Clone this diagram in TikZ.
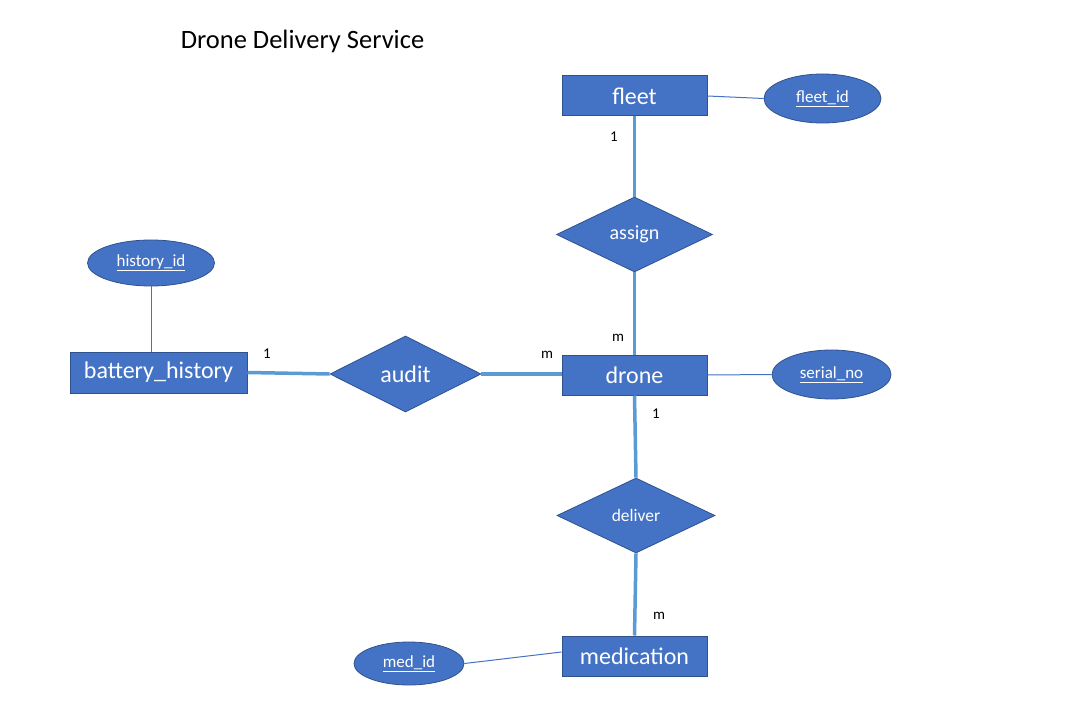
\documentclass[tikz,border=0pt]{standalone}
\usepackage{fontspec}
\setmainfont{Carlito}
\usetikzlibrary{shapes.geometric}
\definecolor{boxfill}{HTML}{4472C4}
\definecolor{boxedge}{HTML}{2F528F}
\definecolor{relline}{HTML}{5B9BD5}
\begin{document}
\begin{tikzpicture}[x=1pt,y=-1pt,
  entity/.style={rectangle,draw=boxedge,line width=1pt,fill=boxfill,text=white,
    minimum width=145pt,minimum height=40pt,inner sep=0pt,font=\fontsize{24}{28}\selectfont},
  relation/.style={diamond,draw=boxedge,line width=0.8pt,fill=boxfill,text=white,
    minimum width=156pt,minimum height=75pt,inner sep=0pt},
  attrib/.style={ellipse,draw=boxedge,line width=0.8pt,fill=boxfill,text=white,
    inner sep=0pt,font=\fontsize{17}{20}\selectfont},
  thick link/.style={draw=relline,line width=3.5pt},
  thin link/.style={draw=boxfill,line width=1pt},
  card/.style={font=\fontsize{15}{18}\selectfont,text=black}]
\useasboundingbox (0,0) rectangle (1076,722);
\node[font=\fontsize{26.5}{31}\selectfont] (title) at (302.5,41) {Drone Delivery Service};
% entities
\node[entity] (fleet) at (634.5,96) {fleet};
\node[entity] (drone) at (634.5,375) {drone};
\node[entity] (medication) at (634.5,656) {medication};
\node[entity,minimum width=177pt,minimum height=41pt] (battery) at (158.5,372.5) {battery\_history};
% relationships
\node[relation,font=\fontsize{20}{24}\selectfont] (assign) at (634.5,234.5) {assign};
\node[relation,minimum width=158pt,font=\fontsize{17.5}{21}\selectfont] (deliver) at (636,515.5) {deliver};
\node[relation,minimum width=151pt,minimum height=76pt,font=\fontsize{24}{28}\selectfont] (audit) at (405.5,374) {audit};
% attributes
\node[attrib,minimum width=117pt,minimum height=49pt] (fleetid) at (822.5,98.5) {\underline{fleet\_id}};
\node[attrib,minimum width=119pt,minimum height=49pt] (serialno) at (831.5,374.5) {\underline{serial\_no}};
\node[attrib,minimum width=110pt,minimum height=43pt] (medid) at (409,663.5) {\underline{med\_id}};
\node[attrib,minimum width=127pt,minimum height=46pt] (historyid) at (151,263) {\underline{history\_id}};
% thick connectors
\draw[thick link] (fleet.south) -- (assign.north);
\draw[thick link] (assign.south) -- (drone.north);
\draw[thick link] (drone.south) -- (deliver.north);
\draw[thick link] (deliver.south) -- (medication.north);
\draw[thick link] (battery.east) -- (audit.west);
\draw[thick link] (audit.east) -- (audit.east -| drone.west);
% thin connectors
\draw[thin link] (fleet.east) -- (fleetid.west);
\draw[thin link] (drone.east) -- (serialno.west);
\draw[thin link] (medid.east) -- ([yshift=4pt]medication.west);
\draw[thin link] (historyid.south) -- (historyid.south |- battery.north);
% cardinalities
\node[card] (c1) at (614,137) {1};
\node[card] (c2) at (618,338) {m};
\node[card] (c3) at (656,414) {1};
\node[card] (c4) at (659,616) {m};
\node[card] (c5) at (267,354) {1};
\node[card] (c6) at (547,355) {m};
\end{tikzpicture}
\end{document}
